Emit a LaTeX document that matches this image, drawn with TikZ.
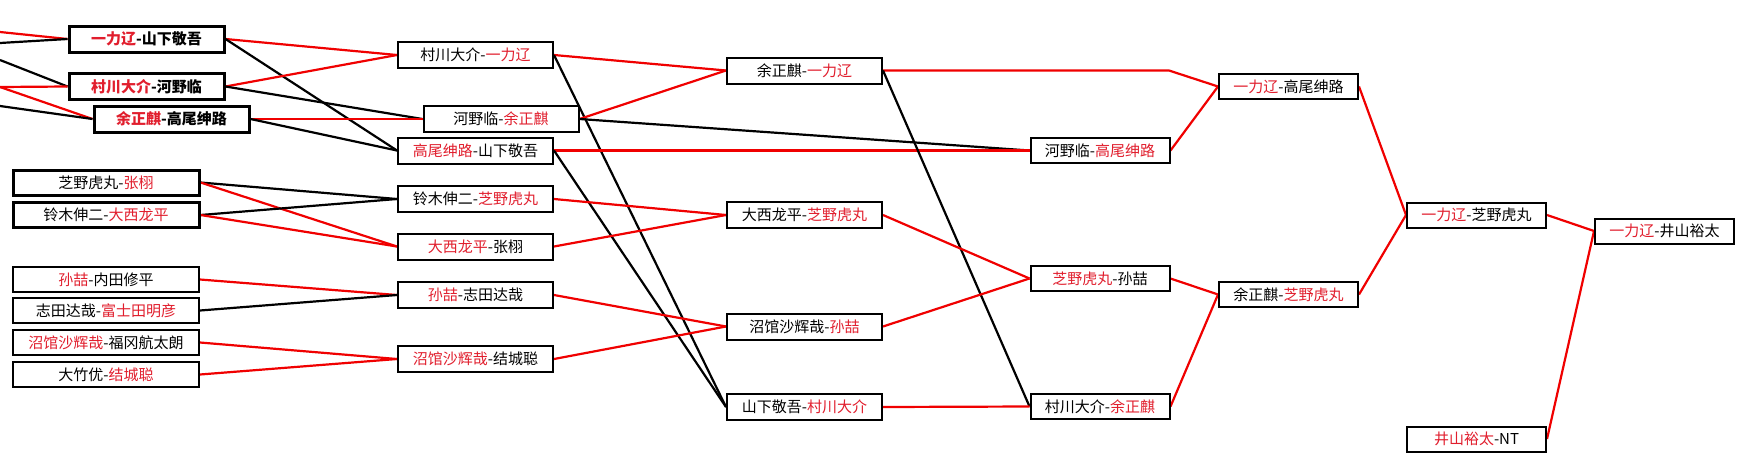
\documentclass[tikz,border=0pt]{standalone}
\usepackage{fontspec}
\setmainfont{Noto Sans CJK SC}
\usetikzlibrary{backgrounds}
\definecolor{txtred}{RGB}{225,30,45}
\definecolor{linered}{RGB}{240,0,0}
\newcommand{\rd}[1]{\textcolor{txtred}{#1}}
\begin{document}
\begin{tikzpicture}[x=1pt,y=-1pt,
  box/.style={draw=black,fill=white,line width=2pt,inner sep=0pt,
    minimum width=139pt,minimum height=25pt,
    font=\fontsize{15}{15}\selectfont},
  bigbox/.style={box,minimum width=155pt,minimum height=26pt},
  widebox/.style={box,minimum width=186pt},
  thick3/.style={line width=3pt},
  bld/.style={font=\fontsize{15}{15}\selectfont\bfseries},
  win/.style={draw=linered,line width=2.2pt},
  lose/.style={draw=black,line width=2.2pt}]
\useasboundingbox (0,0) rectangle (1744,461);
% column 0
\node[bigbox,thick3,bld] (A1) at (146.5,39) {\rd{一力辽}-山下敬吾};
\node[bigbox,thick3,bld] (A2) at (146.5,86.5) {\rd{村川大介}-河野临};
\node[bigbox,thick3,bld] (A3) at (171.5,119) {\rd{余正麒}-高尾绅路};
\node[widebox,thick3] (B1) at (106,182.5) {芝野虎丸-\rd{张栩}};
\node[widebox,thick3] (B2) at (106,215) {铃木伸二-\rd{大西龙平}};
\node[widebox] (C1) at (106,279.5) {\rd{孙喆}-内田修平};
\node[widebox] (C2) at (106,310.5) {志田达哉-\rd{富士田明彦}};
\node[widebox] (C3) at (106,342.5) {\rd{沼馆沙辉哉}-福冈航太朗};
\node[widebox] (C4) at (106,374.5) {大竹优-\rd{结城聪}};
% column 1
\node[bigbox] (D1) at (475.5,55) {村川大介-\rd{一力辽}};
\node[bigbox] (D2) at (501,119) {河野临-\rd{余正麒}};
\node[bigbox] (D3) at (475.5,150.5) {\rd{高尾绅路}-山下敬吾};
\node[bigbox] (D4) at (475.5,199) {铃木伸二-\rd{芝野虎丸}};
\node[bigbox] (D5) at (475.5,246.5) {\rd{大西龙平}-张栩};
\node[bigbox] (D6) at (475.5,295) {\rd{孙喆}-志田达哉};
\node[bigbox] (D7) at (475.5,359) {\rd{沼馆沙辉哉}-结城聪};
% column 2
\node[bigbox] (E1) at (804.5,70.5) {余正麒-\rd{一力辽}};
\node[bigbox] (E2) at (804.5,215) {大西龙平-\rd{芝野虎丸}};
\node[bigbox] (E3) at (804.5,326.5) {沼馆沙辉哉-\rd{孙喆}};
\node[bigbox] (E4) at (804.5,407) {山下敬吾-\rd{村川大介}};
% column 3
\node[box] (F1) at (1100,150.5) {河野临-\rd{高尾绅路}};
\node[box] (F2) at (1100,278.5) {\rd{芝野虎丸}-孙喆};
\node[box] (F3) at (1100,406.5) {村川大介-\rd{余正麒}};
% column 4
\node[box] (G1) at (1288.5,86.5) {\rd{一力辽}-高尾绅路};
\node[box] (G2) at (1288.5,294.5) {余正麒-\rd{芝野虎丸}};
% column 5
\node[box] (H1) at (1476.5,215) {\rd{一力辽}-芝野虎丸};
\node[box] (H2) at (1476.5,439) {\rd{井山裕太}-NT};
% column 6
\node[box] (I1) at (1664.5,231) {\rd{一力辽}-井山裕太};
% free ends at the left edge
\coordinate (L1) at (0,32);
\coordinate (L2) at (0,43);
\coordinate (L3) at (0,60);
\coordinate (L4) at (0,87);
\coordinate (L5) at (0,106);
\coordinate (K1) at (1169,70.5);
\begin{pgfonlayer}{background}
\fill[white] (0,0) rectangle (1744,461);
\draw[win] (L1) -- (A1.west);
\draw[lose] (L2) -- (A1.west);
\draw[lose] (L3) -- (A2.west);
\draw[win] (L4) -- (A2.west);
\draw[win] (L4) -- (A3.west);
\draw[lose] (L5) -- (A3.west);
% round 1
\draw[win] (A1.east) -- (D1.west);
\draw[lose] (A1.east) -- (D3.west);
\draw[win] (A2.east) -- (D1.west);
\draw[lose] (A2.east) -- (D2.west);
\draw[win] (A3.east) -- (D2.west);
\draw[lose] (A3.east) -- (D3.west);
\draw[lose] (B1.east) -- (D4.west);
\draw[win] (B1.east) -- (D5.west);
\draw[lose] (B2.east) -- (D4.west);
\draw[win] (B2.east) -- (D5.west);
\draw[win] (C1.east) -- (D6.west);
\draw[lose] (C2.east) -- (D6.west);
\draw[win] (C3.east) -- (D7.west);
\draw[win] (C4.east) -- (D7.west);
% round 2
\draw[win] (D1.east) -- (E1.west);
\draw[lose] (D1.east) -- (E4.west);
\draw[win] (D2.east) -- (E1.west);
\draw[lose] (D2.east) -- (F1.west);
\draw[win] (D3.east) -- (F1.west);
\draw[lose] (D3.east) -- (E4.west);
\draw[win] (D4.east) -- (E2.west);
\draw[win] (D5.east) -- (E2.west);
\draw[win] (D6.east) -- (E3.west);
\draw[win] (D7.east) -- (E3.west);
% round 3
\draw[win] (E1.east) -- (K1) -- (G1.west);
\draw[lose] (E1.east) -- (F3.west);
\draw[win] (F1.east) -- (G1.west);
\draw[win] (E2.east) -- (F2.west);
\draw[win] (E3.east) -- (F2.west);
\draw[win] (E4.east) -- (F3.west);
% round 4
\draw[win] (F2.east) -- (G2.west);
\draw[win] (F3.east) -- (G2.west);
% round 5
\draw[win] (G1.east) -- (H1.west);
\draw[win] (G2.east) -- (H1.west);
% final
\draw[win] (H1.east) -- (I1.west);
\draw[win] (H2.east) -- (I1.west);
\end{pgfonlayer}
\end{tikzpicture}
\end{document}
